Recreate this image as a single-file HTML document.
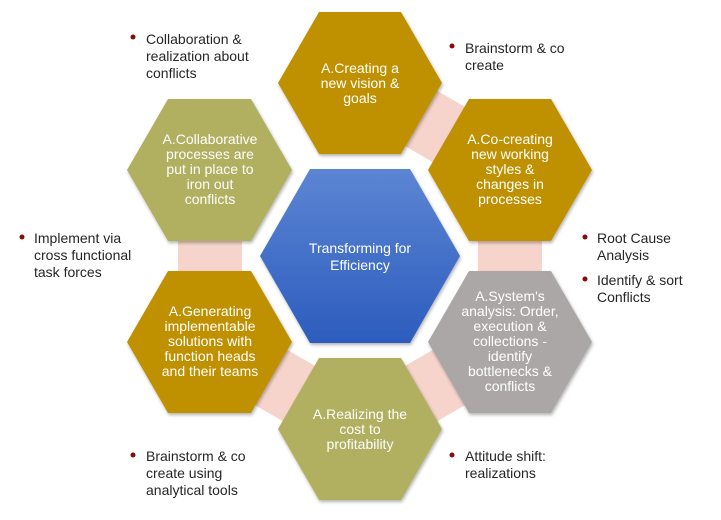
<!DOCTYPE html>
<html><head><meta charset="utf-8"><style>
body{margin:0;background:#fff;width:721px;height:515px;overflow:hidden}
svg text{font-family:"Liberation Sans",sans-serif}
</style></head><body>
<svg width="721" height="515" viewBox="0 0 721 515">
<defs>
<linearGradient id="bl" x1="0" y1="0" x2="0" y2="1"><stop offset="0" stop-color="#5c85d3"/><stop offset="1" stop-color="#2c5cbd"/></linearGradient>
<filter id="sh" x="-10%" y="-10%" width="130%" height="130%"><feDropShadow dx="1" dy="2" stdDeviation="1.5" flood-color="#000" flood-opacity="0.3"/></filter>
</defs>
<polyline points="360,83 510,170 510,342 360,429 210,342 210,170" fill="none" stroke="#f6d4cb" stroke-width="64" stroke-linejoin="miter"/>
<g filter="url(#sh)">
<polygon points="278,83 319,12 401,12 442,83 401,154 319,154" fill="#bf9000"/>
<polygon points="127,170 168,99 251,99 292,170 251,241 168,241" fill="#b1af60"/>
<polygon points="428,170 469,99 551,99 592,170 551,241 469,241" fill="#bf9000"/>
<polygon points="260,256 310,169 410,169 460,256 410,343 310,343" fill="url(#bl)"/>
<polygon points="127,342 168,271 251,271 292,342 251,413 168,413" fill="#bf9000"/>
<polygon points="428,342 469,271 551,271 592,342 551,413 469,413" fill="#aba7a6"/>
<polygon points="278,429 319,358 401,358 442,429 401,500 319,500" fill="#b1af60"/>
</g>
<g fill="#fff" font-size="14" text-anchor="middle">
<text x="360" y="73">A.Creating a</text><text x="360" y="88">new vision &amp;</text><text x="360" y="103">goals</text>
<text x="210" y="144">A.Collaborative</text><text x="210" y="159">processes are</text><text x="210" y="174">put in place to</text><text x="210" y="189">iron out</text><text x="210" y="204">conflicts</text>
<text x="510" y="144">A.Co-creating</text><text x="510" y="159">new working</text><text x="510" y="174">styles &amp;</text><text x="510" y="189">changes in</text><text x="510" y="204">processes</text>
<text x="360" y="253">Transforming for</text><text x="360" y="270">Efficiency</text>
<text x="210" y="316">A.Generating</text><text x="210" y="331">implementable</text><text x="210" y="346">solutions with</text><text x="210" y="361">function heads</text><text x="210" y="376">and their teams</text>
<text x="510" y="301">A.System's</text><text x="510" y="316">analysis: Order,</text><text x="510" y="331">execution &amp;</text><text x="510" y="346">collections -</text><text x="510" y="361">identify</text><text x="510" y="376">bottlenecks &amp;</text><text x="510" y="391">conflicts</text>
<text x="360" y="419">A.Realizing the</text><text x="360" y="434">cost to</text><text x="360" y="449">profitability</text>
</g>
<g fill="#8b0a0a">
<circle cx="133" cy="37" r="2.5"/><circle cx="452" cy="46" r="2.5"/><circle cx="22" cy="237" r="2.5"/>
<circle cx="585" cy="237" r="2.5"/><circle cx="585" cy="279" r="2.5"/><circle cx="133" cy="455" r="2.5"/><circle cx="452" cy="455" r="2.5"/>
</g>
<g fill="#262626" font-size="14">
<text x="146" y="44">Collaboration &amp;</text><text x="146" y="61">realization about</text><text x="146" y="78">conflicts</text>
<text x="465" y="53">Brainstorm &amp; co</text><text x="465" y="70">create</text>
<text x="34" y="243">Implement via</text><text x="34" y="260">cross functional</text><text x="34" y="277">task forces</text>
<text x="597" y="243">Root Cause</text><text x="597" y="260">Analysis</text>
<text x="597" y="285">Identify &amp; sort</text><text x="597" y="302">Conflicts</text>
<text x="146" y="461">Brainstorm &amp; co</text><text x="146" y="478">create using</text><text x="146" y="495">analytical tools</text>
<text x="465" y="461">Attitude shift:</text><text x="465" y="478">realizations</text>
</g>
</svg>
</body></html>
